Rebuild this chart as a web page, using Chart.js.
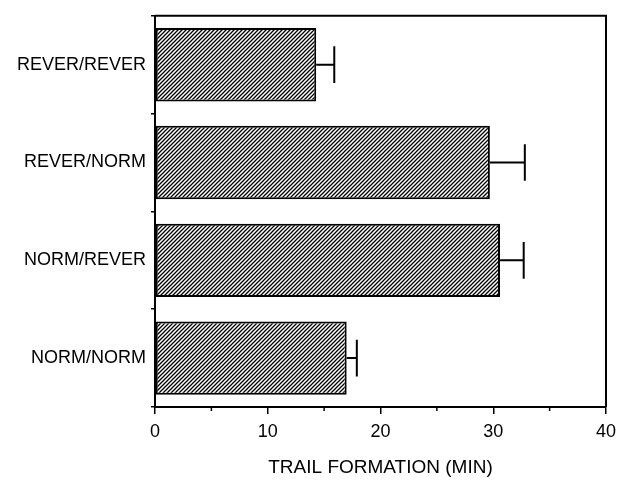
<!DOCTYPE html>
<html>
<head>
<meta charset="utf-8">
<script src="https://cdn.jsdelivr.net/npm/chart.js@4.4.1/dist/chart.umd.min.js"></script>
<style>
  html, body { margin: 0; padding: 0; background: #fff; }
  #wrap { width: 625px; height: 481px; position: relative; }
</style>
</head>
<body>
<div id="wrap"><canvas id="chart"></canvas></div>
<script>
// groups (top to bottom) and their mean trail formation time
var groupes = ["REVER/REVER", "REVER/NORM", "NORM/REVER", "NORM/NORM"];
var moyennes = [14.3, 29.7, 30.6, 17.0];
var erreurs = [1.6, 3.1, 2.1, 0.9];
var ticksMajeurs = [0, 10, 20, 30, 40];
var ticksMineurs = [5, 15, 25, 35];
var titreX = "TRAIL FORMATION (MIN)";

// hachures "/" pour les barres
function hachures() {
  var s = 4;
  var c = document.createElement("canvas");
  c.width = s;
  c.height = s;
  var g = c.getContext("2d");
  g.fillStyle = "#fff";
  g.fillRect(0, 0, s, s);
  g.strokeStyle = "#000";
  g.lineWidth = 1.3;
  g.beginPath();
  g.moveTo(0, s);
  g.lineTo(s, 0);
  g.moveTo(-1, 1);
  g.lineTo(1, -1);
  g.moveTo(s - 1, s + 1);
  g.lineTo(s + 1, s - 1);
  g.stroke();
  return g.createPattern(c, "repeat");
}

// barres d'erreur + cadre + petits ticks
var extras = {
  id: "extras",
  afterDatasetsDraw: function (chart) {
    var ctx = chart.ctx;
    var xs = chart.scales.x;
    var meta = chart.getDatasetMeta(0);
    ctx.save();
    ctx.strokeStyle = "#000";
    ctx.lineWidth = 2;
    meta.data.forEach(function (bar, i) {
      var x0 = xs.getPixelForValue(moyennes[i]);
      var x1 = xs.getPixelForValue(moyennes[i] + erreurs[i]);
      var h = bar.height * 0.25;
      ctx.beginPath();
      ctx.moveTo(x0, bar.y);
      ctx.lineTo(x1, bar.y);
      ctx.moveTo(x1, bar.y - h);
      ctx.lineTo(x1, bar.y + h);
      ctx.stroke();
    });
    var a = chart.chartArea;
    ctx.beginPath();
    ctx.moveTo(a.left, a.top);
    ctx.lineTo(a.right, a.top);
    ctx.lineTo(a.right, a.bottom);
    ctx.stroke();
    ctx.lineWidth = 1.5;
    ticksMineurs.forEach(function (v) {
      var x = xs.getPixelForValue(v);
      ctx.beginPath();
      ctx.moveTo(x, a.bottom);
      ctx.lineTo(x, a.bottom + 4);
      ctx.stroke();
    });
    ctx.restore();
  },
};

var ctx = document.getElementById("chart").getContext("2d");
var chart = new Chart(ctx, {
  type: "bar",
  data: {
    labels: groupes,
    datasets: [
      {
        data: moyennes,
        backgroundColor: hachures(),
        borderColor: "#000",
        borderWidth: 2,
        borderSkipped: false,
        categoryPercentage: 1,
        barPercentage: 0.75,
      },
    ],
  },
  options: {
    indexAxis: "y",
    responsive: true,
    maintainAspectRatio: false,
    animation: false,
    layout: { padding: { left: 0, right: 19, top: 12, bottom: 0 } },
    plugins: { legend: { display: false }, tooltip: { enabled: false } },
    scales: {
      x: {
        min: 0,
        max: 40,
        afterBuildTicks: function (scale) {
          scale.ticks = ticksMajeurs.map(function (v) { return { value: v }; });
        },
        afterFit: function (scale) { scale.height = 74; },
        border: { color: "#000", width: 2 },
        grid: { drawOnChartArea: false, tickLength: 7, color: "#000", lineWidth: 1.5 },
        ticks: {
          color: "#000",
          padding: 7,
          font: { family: "Liberation Sans", size: 18 },
        },
        title: {
          display: true,
          text: titreX,
          color: "#000",
          padding: { top: 6, bottom: 2 },
          font: { family: "Liberation Sans", size: 19 },
        },
      },
      y: {
        afterFit: function (scale) { scale.width = 155; },
        border: { color: "#000", width: 2 },
        grid: { drawOnChartArea: false, tickLength: 4, color: "#000", lineWidth: 1.5, offset: true },
        ticks: {
          color: "#000",
          padding: 5,
          font: { family: "Liberation Sans", size: 18 },
        },
      },
    },
  },
  plugins: [extras],
});
</script>
</body>
</html>
